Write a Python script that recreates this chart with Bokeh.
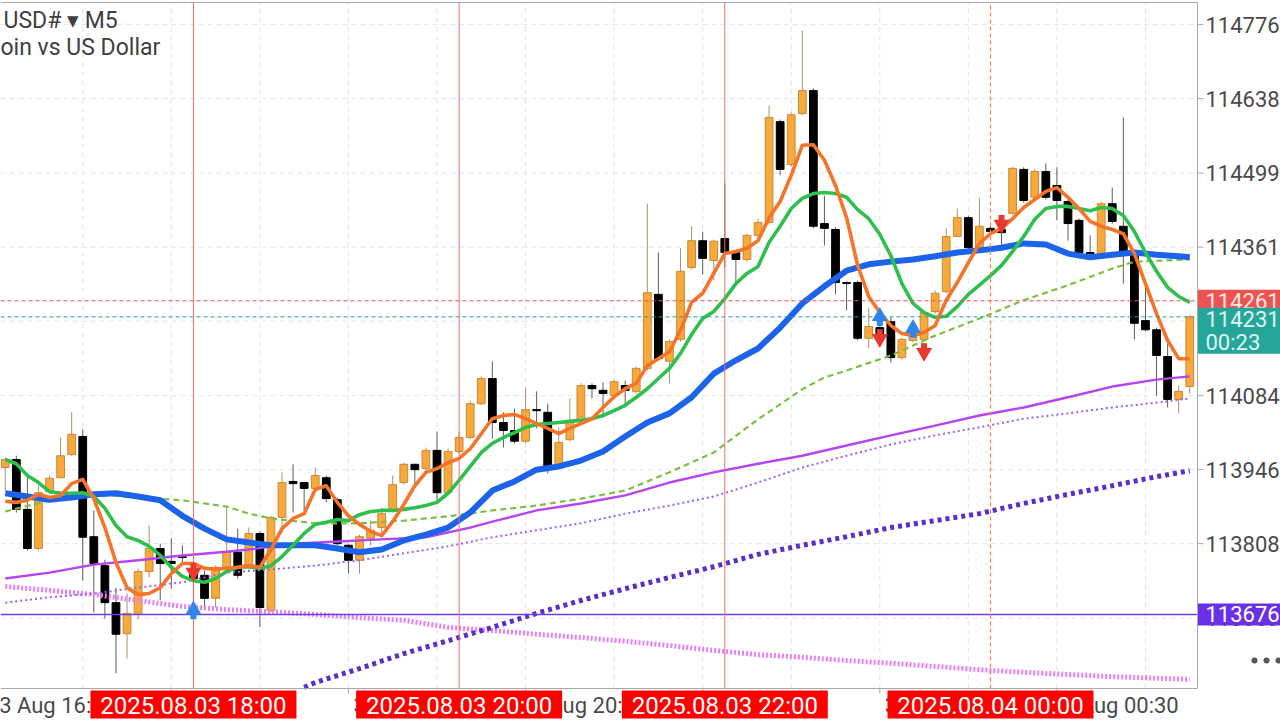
import numpy as np
from bokeh.plotting import figure
from bokeh.models import Range1d, ColumnDataSource
from bokeh.core.properties import value
from bokeh.embed import file_html
from bokeh.resources import INLINE

# ---------------- data (M5 bars, index 0 = 2025.08.03 18:00) ----------------
bar = list(range(-17, 91))
opens = [113950, 113965, 113872, 113799, 113905, 113931, 113974, 114008, 113821, 113767, 113698, 113640, 113676, 113756, 113799, 113775, 113784,
         113758, 113749, 113706, 113764, 113792, 113764, 113827, 113683, 113857, 113924,
         113922, 113911, 113931, 113890, 113805, 113777, 113818, 113838, 113870, 113922,
         113956, 113948, 113982, 113903, 113980, 114006, 114069, 114116, 114034, 114019,
         113999, 114058, 114053, 113954, 114002, 114040, 114103, 114094, 114084, 114103,
         114092, 114135, 114273, 114148, 114189, 114323, 114373, 114336, 114377, 114351,
         114338, 114383, 114407, 114595, 114515, 114610, 114653, 114405, 114394, 114295,
         114295, 114191, 114211, 114222, 114155, 114187, 114189, 114241, 114278, 114381,
         114416, 114360, 114396, 114394, 114424, 114506, 114454, 114502, 114476, 114446,
         114411, 114351, 114349, 114442, 114400, 114351, 114224, 114207, 114157, 114077, 114101]
highs = [113969, 113972, 113937, 113916, 113935, 114006, 114053, 114021, 113870, 113778, 113726, 113715, 113762, 113842, 113808, 113818, 113805,
         113777, 113758, 113767, 113875, 113836, 113838, 113831, 113860, 113941, 113956,
         113924, 113950, 113935, 113894, 113808, 113825, 113851, 113875, 113935, 113959,
         113957, 113987, 114017, 113985, 114017, 114075, 114120, 114148, 114053, 114060,
         114099, 114092, 114069, 114025, 114079, 114107, 114107, 114109, 114114, 114112,
         114138, 114442, 114351, 114189, 114359, 114400, 114390, 114375, 114480, 114355,
         114386, 114414, 114625, 114599, 114612, 114765, 114657, 114457, 114398, 114297,
         114299, 114248, 114224, 114230, 114192, 114215, 114243, 114280, 114396, 114433,
         114420, 114452, 114400, 114407, 114511, 114510, 114506, 114517, 114510, 114450,
         114414, 114383, 114446, 114472, 114603, 114355, 114290, 114211, 114181, 114103, 114235]
lows = [113907, 113866, 113795, 113795, 113902, 113930, 113972, 113739, 113680, 113668, 113566, 113594, 113667, 113745, 113702, 113724, 113771,
        113665, 113689, 113689, 113760, 113743, 113760, 113652, 113680, 113827, 113866,
        113870, 113907, 113885, 113805, 113752, 113752, 113805, 113827, 113866, 113918,
        113920, 113944, 113887, 113900, 113976, 114002, 114066, 114004, 113987, 113995,
        113995, 114023, 113939, 113950, 113999, 114036, 114079, 114043, 114081, 114062,
        114088, 114131, 114150, 114107, 114185, 114319, 114310, 114299, 114323, 114290,
        114334, 114379, 114403, 114495, 114511, 114607, 114396, 114364, 114273, 114243,
        114187, 114172, 114178, 114146, 114151, 114183, 114185, 114237, 114275, 114379,
        114357, 114357, 114386, 114364, 114420, 114444, 114450, 114450, 114411, 114373,
        114347, 114342, 114345, 114405, 114293, 114189, 114204, 114084, 114062, 114051, 114088]
closes = [113965, 113872, 113799, 113903, 113930, 113972, 114012, 113820, 113771, 113698, 113639, 113678, 113756, 113799, 113771, 113771, 113782,
          113743, 113706, 113764, 113793, 113749, 113827, 113689, 113857, 113922, 113920,
          113911, 113935, 113892, 113808, 113777, 113821, 113833, 113864, 113918, 113956,
          113946, 113982, 113903, 113980, 114006, 114069, 114116, 114034, 114019, 113999,
          114058, 114056, 113952, 113997, 114038, 114103, 114097, 114088, 114110, 114094,
          114135, 114276, 114153, 114185, 114316, 114373, 114340, 114372, 114351, 114338,
          114383, 114407, 114603, 114506, 114608, 114653, 114400, 114396, 114295, 114293,
          114191, 114213, 114200, 114155, 114189, 114206, 114239, 114275, 114381, 114416,
          114360, 114400, 114390, 114388, 114508, 114448, 114502, 114454, 114448, 114405,
          114351, 114349, 114442, 114409, 114351, 114219, 114207, 114159, 114077, 114092, 114231]

# moving averages
ma_fast = [113887, 113885, 113889, 113900, 113894, 113898, 113920, 113928, 113892, 113838, 113773, 113726, 113713, 113715, 113726, 113752, 113771,
           113771, 113762, 113760, 113762, 113764, 113767, 113764, 113797, 113836, 113855,
           113864, 113909, 113916, 113885, 113860, 113844, 113831, 113823, 113849, 113881,
           113916, 113941, 113948, 113959, 113967, 113985, 114013, 114041, 114047, 114049,
           114041, 114032, 114023, 114013, 114023, 114032, 114041, 114062, 114082, 114097,
           114107, 114140, 114153, 114166, 114206, 114258, 114275, 114312, 114349, 114353,
           114359, 114373, 114416, 114446, 114495, 114551, 114552, 114523, 114476, 114416,
           114327, 114269, 114239, 114215, 114200, 114196, 114202, 114215, 114262, 114295,
           114332, 114368, 114386, 114396, 114414, 114435, 114450, 114465, 114472, 114454,
           114433, 114409, 114400, 114394, 114386, 114349, 114293, 114237, 114187, 114153, 114153]
ma_mid = [113965, 113957, 113935, 113922, 113905, 113902, 113902, 113903, 113896, 113874, 113842, 113821, 113814, 113803, 113786, 113764, 113747,
          113739, 113736, 113743, 113756, 113764, 113765, 113762, 113767, 113784, 113805,
          113827, 113844, 113848, 113853, 113851, 113862, 113868, 113870, 113870, 113872,
          113875, 113879, 113885, 113902, 113926, 113952, 113978, 113995, 114006, 114015,
          114025, 114030, 114032, 114034, 114036, 114038, 114041, 114047, 114056, 114066,
          114081, 114097, 114116, 114135, 114163, 114198, 114228, 114241, 114265, 114293,
          114312, 114325, 114370, 114400, 114433, 114452, 114461, 114463, 114461, 114454,
          114431, 114414, 114385, 114345, 114293, 114256, 114239, 114230, 114232, 114250,
          114273, 114290, 114308, 114327, 114353, 114381, 114413, 114433, 114437, 114437,
          114433, 114429, 114435, 114433, 114420, 114390, 114351, 114316, 114286, 114269, 114258]
blue_x = [-17, -15, -13, -11, -9, -7, -5, -3, -1, 1, 3, 5, 7, 9, 11, 13, 15, 17, 19, 21, 23, 25, 27, 29, 31, 33, 35,
          37, 39, 41, 43, 45, 47, 49, 51, 53, 55, 57, 59, 61, 63, 65, 67, 69, 71, 73, 75, 77, 79, 81, 83, 85, 87, 89, 90]
blue_y = [113902, 113896, 113890, 113894, 113900, 113902, 113896, 113889, 113860, 113836, 113816, 113810, 113805, 113805,
          113805, 113799, 113792, 113797, 113814, 113825, 113838, 113866, 113907, 113924, 113946, 113952, 113963, 113980,
          114008, 114034, 114051, 114081, 114125, 114150, 114172, 114211, 114256, 114288, 114317, 114329, 114334, 114338,
          114344, 114351, 114355, 114360, 114368, 114366, 114349, 114342, 114347, 114351, 114347, 114344, 114342]
gdash_x = [-17, -13, -9, -5, -1, 3, 5, 7, 11, 15, 19, 23, 27, 31, 35, 39, 43, 47, 51, 55, 57, 59, 63, 67, 71, 75, 79, 83, 85, 90]
gdash_y = [113868, 113889, 113900, 113894, 113889, 113877, 113864, 113855, 113846, 113846, 113851, 113859, 113870, 113879,
           113892, 113907, 113941, 113978, 114040, 114096, 114118, 114131, 114159, 114196, 114228, 114262, 114290, 114321,
           114334, 114338]
mag_x = [-17, -13, -9, -5, -1, 3, 5, 9, 13, 17, 21, 25, 27, 31, 35, 39, 43, 47, 51, 55, 59, 63, 67, 71, 75, 79, 83, 87, 90]
mag_y = [113743, 113754, 113769, 113777, 113786, 113793, 113797, 113808, 113812, 113816, 113820, 113838, 113849, 113870,
         113883, 113898, 113922, 113941, 113957, 113972, 113991, 114010, 114028, 114047, 114062, 114081, 114101, 114114, 114120]
vio_x = [-17, -13, -9, -5, -1, 3, 7, 11, 15, 19, 23, 27, 31, 35, 39, 43, 47, 51, 55, 59, 63, 67, 71, 75, 79, 83, 87, 90]
vio_y = [113698, 113708, 113715, 113726, 113736, 113754, 113760, 113767, 113777, 113790, 113803, 113820, 113833, 113846,
         113864, 113879, 113896, 113922, 113950, 113972, 113993, 114010, 114025, 114041, 114051, 114062, 114071, 114079]
slow_x = [10, 11, 15, 19, 23, 27, 31, 35, 39, 43, 47, 51, 55, 59, 63, 67, 71, 75, 79, 83, 87, 90]
slow_y = [113540, 113549, 113575, 113603, 113627, 113652, 113678, 113702, 113724, 113745, 113765, 113788, 113805,
          113821, 113838, 113851, 113864, 113883, 113900, 113916, 113933, 113944]
pink_x = [-17, -13, -9, -5, -1, 3, 7, 11, 15, 19, 23, 27, 31, 35, 39, 43, 47, 51, 55, 59, 63, 67, 71, 75, 79, 83, 87, 90]
pink_y = [113728, 113721, 113713, 113702, 113691, 113685, 113681, 113676, 113670, 113665, 113652, 113646, 113639, 113633,
          113626, 113618, 113609, 113601, 113596, 113590, 113585, 113579, 113573, 113568, 113564, 113560, 113557, 113555]

# signals
buy_x = [0, 62, 65]
buy_y = [113681, 114228, 114206]
sell_x = [0, 62, 66, 73]
sell_y = [113758, 114194, 114168, 114407]

# levels / markers / texts
ask_price = 114261
bid_price = 114231
line_level = 113676
countdown = "00:23"
vline_bars = [0, 24, 48, 72]
vline_texts = ["2025.08.03 18:00", "2025.08.03 20:00", "2025.08.03 22:00", "2025.08.04 00:00"]
y_ticks = [113669, 113808, 113946, 114084, 114223, 114361, 114499, 114638, 114776]
y_tick_labels = ["113669", "113808", "113946", "114084", "114223", "114361", "114499", "114638", "114776"]
x_tick_bars = [-18, -2, 14, 30, 46, 62, 78]
x_tick_labels = ["3 Aug 16:30", "3 Aug 17:50", "3 Aug 19:10", "3 Aug 20:30", "3 Aug 21:50", "3 Aug 23:10", "4 Aug 00:30"]
grid_bars = list(range(-18, 91, 8))
title1 = "USD# \u25be M5"
title2 = "oin vs US Dollar"

# ---------------- layout (pixel geometry of the 1280x720 canvas) ----------------
PX_PER_BAR = 11.07
PRICE_PER_PX = 1.865
X_LEFT = -17.43                      # bar index at canvas x = 0
Y_TOP = 114821                       # price at canvas y = 0
W, H = 1280, 720
PLOT_R_PX, PLOT_T_PX, PLOT_B_PX = 1197, 2, 688


def kx(px):   # canvas x -> bar coordinate
    return X_LEFT + px / PX_PER_BAR


def py(pyx):  # canvas y -> price coordinate
    return Y_TOP - pyx * PRICE_PER_PX


def dpx(n):   # n pixels as bars
    return n / PX_PER_BAR


def dpy(n):   # n pixels as price
    return n * PRICE_PER_PX


p = figure(width=W, height=H, output_backend="svg", toolbar_location=None,
           x_range=Range1d(kx(0), kx(W)), y_range=Range1d(py(H), py(0)),
           x_axis_location=None, y_axis_location=None,
           min_border_left=0, min_border_right=0, min_border_top=0, min_border_bottom=0)
p.background_fill_color = "white"
p.border_fill_color = "white"
p.outline_line_color = None
p.xgrid.visible = False
p.ygrid.visible = False

FONT = "Roboto"
XR = kx(PLOT_R_PX)
YT, YB = py(PLOT_T_PX), py(PLOT_B_PX)
GRID = "#dce5f0"

# grid
p.segment(x0=grid_bars, y0=[YB] * len(grid_bars), x1=grid_bars, y1=[YT] * len(grid_bars),
          line_color=GRID, line_width=1, line_dash="5 4")
p.segment(x0=[kx(0)] * len(y_ticks), y0=y_ticks, x1=[XR] * len(y_ticks), y1=y_ticks,
          line_color=GRID, line_width=1, line_dash="5 4")

# ---------------- candles ----------------
o = np.array(opens); c = np.array(closes)
bull = c > o
src = ColumnDataSource(dict(
    x=bar, h=highs, l=lows,
    top=np.maximum(o, c), bottom=np.minimum(o, c),
    fill=np.where(bull, "#f8a93a", "#000000"),
    line=np.where(bull, "#c48a3c", "#000000"),
    wick=np.where(bull, "#a8916c", "#5e5e5e"),
))
p.segment(x0="x", y0="h", x1="x", y1="l", line_color="wick", line_width=1, source=src)
p.vbar(x="x", width=0.7, top="top", bottom="bottom", fill_color="fill", line_color="line", line_width=1, source=src)

# ---------------- moving averages ----------------
p.line(pink_x, pink_y, line_color="#e97ff3", line_width=5, line_dash="2 2")
p.line(slow_x, slow_y, line_color="#5a2ec8", line_width=5, line_dash="4 4")
p.line(vio_x, vio_y, line_color="#9a62f2", line_width=2, line_dash="2 3")
p.line(mag_x, mag_y, line_color="#b644f0", line_width=2.4)
p.line(gdash_x, gdash_y, line_color="#7cc043", line_width=2.2, line_dash="6 4")
p.line(blue_x, blue_y, line_color="#1a63ea", line_width=6, line_join="round")
p.line(bar, ma_mid, line_color="#2fbf4e", line_width=3.6, line_join="round")
p.line(bar, ma_fast, line_color="#f5742a", line_width=3.6, line_join="round")

# ---------------- horizontal / vertical levels ----------------
p.segment(x0=[kx(0)], y0=[ask_price], x1=[XR], y1=[ask_price], line_color="#f05050", line_width=1, line_dash="4 3")
p.segment(x0=[kx(0)], y0=[bid_price], x1=[XR], y1=[bid_price], line_color="#22a396", line_width=1, line_dash="4 3")
p.segment(x0=[kx(0)], y0=[line_level], x1=[XR], y1=[line_level], line_color="#6f3df0", line_width=1.5)
vb = vline_bars[:-1]
p.segment(x0=vb, y0=[YB] * len(vb), x1=vb, y1=[YT] * len(vb), line_color="#f26b6b", line_width=1)
p.segment(x0=[vline_bars[-1]], y0=[YB], x1=[vline_bars[-1]], y1=[YT], line_color="#f0845e",
          line_width=1.3, line_dash="4 3")

# ---------------- signal arrows ----------------
p.rect(x=buy_x, y=[v - dpy(4) for v in buy_y], width=6, height=7, width_units="screen",
       height_units="screen", fill_color="#2f86e8", line_color=None)
p.scatter(x=buy_x, y=[v + dpy(2) for v in buy_y], marker="triangle", size=16,
          fill_color="#2f86e8", line_color=None)
p.rect(x=sell_x, y=[v + dpy(4) for v in sell_y], width=6, height=7, width_units="screen",
       height_units="screen", fill_color="#e8392f", line_color=None)
p.scatter(x=sell_x, y=[v - dpy(2) for v in sell_y], marker="inverted_triangle", size=16,
          fill_color="#e8392f", line_color=None)

# ---------------- frame border and price scale ----------------
BORDER = "#a9a9a9"
p.segment(x0=[kx(0), kx(0), XR], y0=[YT, YB, YB], x1=[XR, XR, XR], y1=[YT, YB, YT],
          line_color=BORDER, line_width=1)
p.segment(x0=[XR] * len(y_ticks), y0=y_ticks, x1=[XR + dpx(6)] * len(y_ticks), y1=y_ticks,
          line_color=BORDER, line_width=1)
p.text(x=[XR + dpx(8)] * len(y_ticks), y=y_ticks, text=y_tick_labels, text_font=value(FONT),
       text_font_size="22px", text_color="#4a4a4a", text_align="left", text_baseline="middle")

# time scale
p.segment(x0=x_tick_bars, y0=[YB] * len(x_tick_bars), x1=x_tick_bars, y1=[YB - dpy(5)] * len(x_tick_bars),
          line_color=BORDER, line_width=1)
p.text(x=[b + dpx(5) for b in x_tick_bars], y=[py(705)] * len(x_tick_bars), text=x_tick_labels,
       text_font=value(FONT), text_font_size="22px", text_color="#4a4a4a",
       text_align="left", text_baseline="middle")

# red vertical-line labels on the time scale
p.rect(x=vline_bars, y=[py(704)] * len(vline_bars), width=206, height=28, width_units="screen",
       height_units="screen", fill_color="#ff0000", line_color=None)
p.text(x=vline_bars, y=[py(705)] * len(vline_bars), text=vline_texts, text_font=value(FONT),
       text_font_size="24px", text_color="white", text_align="center", text_baseline="middle")

# price boxes on the price scale
box_x = XR + dpx(42)
p.rect(x=[box_x], y=[ask_price], width=83, height=22, width_units="screen", height_units="screen",
       fill_color="#ef5350", line_color=None)
p.text(x=[XR + dpx(8)], y=[ask_price], text=[str(ask_price)], text_font=value(FONT), text_font_size="22px",
       text_color="#fdeaea", text_align="left", text_baseline="middle")
p.rect(x=[box_x], y=[bid_price - dpy(14)], width=83, height=46, width_units="screen", height_units="screen",
       fill_color="#26a69a", line_color=None)
p.text(x=[XR + dpx(8), XR + dpx(8)], y=[bid_price - dpy(2), bid_price - dpy(26)],
       text=[str(bid_price), countdown], text_font=value(FONT), text_font_size="22px",
       text_color="#dff3f1", text_align="left", text_baseline="middle")
p.rect(x=[box_x], y=[line_level], width=83, height=22, width_units="screen", height_units="screen",
       fill_color="#6a30e6", line_color=None)
p.text(x=[XR + dpx(8)], y=[line_level], text=[str(line_level)], text_font=value(FONT), text_font_size="22px",
       text_color="white", text_align="left", text_baseline="middle")

# menu dots
p.scatter(x=[kx(1254), kx(1266), kx(1278)], y=[py(660)] * 3, marker="circle", size=6,
          fill_color="#555555", line_color=None)

# symbol title
p.text(x=[kx(3), kx(0)], y=[py(20), py(47)], text=[title1, title2], text_font=value(FONT),
       text_font_size="23px", text_color="#3f3f3f", text_align="left", text_baseline="middle")

open("out.html", "w").write(file_html(p, INLINE))
